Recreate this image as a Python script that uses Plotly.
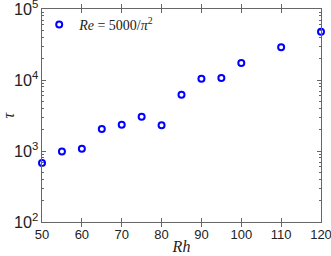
import plotly.graph_objects as go

rh = [50, 55, 60, 65, 70, 75, 80, 85, 90, 95, 100, 110, 120]
tau = [680, 980, 1080, 2040, 2350, 3040, 2300, 6200, 10400, 10700, 17300, 29000, 48000]
xticks = [50, 60, 70, 80, 90, 100, 110, 120]
yminor = [m * 10 ** e for e in (2, 3, 4) for m in range(2, 10)]

fig = go.Figure()
fig.add_trace(go.Scatter(
    x=rh, y=tau, mode="markers", cliponaxis=False,
    name="<i>Re</i> = 5000/<i>π</i><sup>2</sup>",
    marker=dict(symbol="circle-open", size=6, color="#0000ff", line=dict(width=2, color="#0000ff")),
))
# invisible trace to carry the minor-tick axis
fig.add_trace(go.Scatter(x=rh, y=tau, yaxis="y2", mode="markers", showlegend=False,
                         hoverinfo="skip", marker=dict(opacity=0)))

axis_common = dict(
    showline=True, linecolor="#666666", linewidth=1, mirror="allticks",
    ticks="inside", ticklen=4, tickcolor="#666666", showgrid=False, zeroline=False,
    automargin=False, ticklabeloverflow="allow",
    tickfont=dict(family="Liberation Sans, Arial", size=13, color="#222222"),
)

fig.update_layout(
    width=331, height=256,
    margin=dict(l=42, r=10, t=9, b=34),
    paper_bgcolor="white", plot_bgcolor="white",
    showlegend=True,
    legend=dict(x=-0.01, y=1.0, xanchor="left", yanchor="top", bgcolor="rgba(0,0,0,0)",
                itemwidth=30,
                font=dict(family="Liberation Serif, Times New Roman", size=14, color="#222222")),
    xaxis=dict(range=[50, 120], tickvals=xticks, title=dict(text="<i>Rh</i>", standoff=0,
               font=dict(family="Liberation Serif, Times New Roman", size=16, color="#222222")),
               **axis_common),
    yaxis=dict(type="log", range=[2, 5], dtick=1, exponentformat="power",
               title=dict(text="<i>τ</i>", standoff=0,
               font=dict(family="Liberation Serif, Times New Roman", size=16, color="#222222")),
               **axis_common),
    yaxis2=dict(type="log", range=[2, 5], overlaying="y", side="left", tickvals=yminor,
                ticks="inside", ticklen=2, tickcolor="#666666", showticklabels=False,
                showline=True, linecolor="#666666", linewidth=1, mirror="allticks",
                showgrid=False, zeroline=False, automargin=False),
)

fig.write_html("out.html", config={"displayModeBar": False},
               post_script="document.body.style.margin='0';document.body.style.padding='0';")
